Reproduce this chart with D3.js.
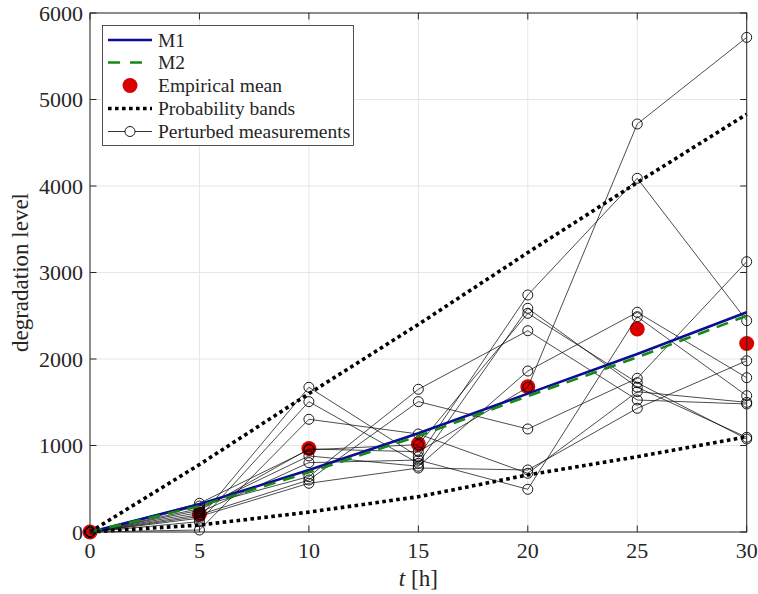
<!DOCTYPE html>
<html><head><meta charset="utf-8">
<script src="https://cdn.jsdelivr.net/npm/d3@7"></script>
<style>
body{margin:0;background:#fff;}
text{font-family:"Liberation Serif","Times New Roman",serif;fill:#262626;}
</style></head>
<body><svg id="c" width="758" height="594"></svg>
<script>
const times = [0, 5, 10, 15, 20, 25, 30];
const xTicks = [0, 5, 10, 15, 20, 25, 30];
const yTicks = [0, 1000, 2000, 3000, 4000, 5000, 6000];

const m1 = [0, 320, 716, 1142, 1600, 2057, 2540];
const m2 = [0, 300, 690, 1110, 1570, 2020, 2500];
const empiricalMean = [0, 208, 965, 1017, 1680, 2347, 2180];
const upperBand = [0, 780, 1600, 2400, 3230, 4040, 4830];
const lowerBand = [0, 80, 230, 408, 660, 870, 1100];

const pert1 = [0, 160, 1673, 871, 2740, 4089, 2443];
const pert2 = [0, 120, 1507, 794, 2586, 1673, 1095];
const pert3 = [0, 23, 1303, 1133, 679, 1622, 1499];
const pert4 = [0, 250, 960, 928, 1673, 4717, 5718];
const pert5 = [0, 332, 950, 1010, 2528, 1726, 1075];
const pert6 = [0, 270, 879, 760, 1861, 2540, 1784];
const pert7 = [0, 225, 802, 832, 494, 2489, 1576];
const pert8 = [0, 300, 640, 1650, 2327, 1526, 1480];
const pert9 = [0, 200, 601, 1507, 1191, 1777, 3125];
const pert10 = [0, 180, 563, 740, 717, 1430, 1980];
const perturbed = [pert1, pert2, pert3, pert4, pert5, pert6, pert7, pert8, pert9, pert10];

const legendLabels = ["M1", "M2", "Empirical mean", "Probability bands", "Perturbed measurements"];

const L = 90, R = 746.7, T = 13, B = 532;
const svg = d3.select("#c");
const x = d3.scaleLinear().domain([0, 30]).range([L, R]);
const y = d3.scaleLinear().domain([0, 6000]).range([B, T]);
const axCol = "#262626";

// grid
const g = svg.append("g");
g.selectAll(".gx").data(xTicks).enter().append("line")
  .attr("x1", d => x(d)).attr("x2", d => x(d)).attr("y1", T).attr("y2", B)
  .attr("stroke", "#e6e6e6").attr("stroke-width", 1);
g.selectAll(".gy").data(yTicks).enter().append("line")
  .attr("y1", d => y(d)).attr("y2", d => y(d)).attr("x1", L).attr("x2", R)
  .attr("stroke", "#e6e6e6").attr("stroke-width", 1);

const plot = svg.append("g");
const line = d3.line().x((d, i) => x(times[i])).y(d => y(d));

// empirical mean
plot.selectAll(".em").data(empiricalMean).enter().append("circle")
  .attr("cx", (d, i) => x(times[i])).attr("cy", d => y(d)).attr("r", 7.5)
  .attr("fill", "#d90000");

// perturbed
perturbed.forEach(s => {
  plot.append("path").attr("d", line(s)).attr("fill", "none")
    .attr("stroke", "#000").attr("stroke-width", 0.7);
  plot.selectAll(null).data(s).enter().append("circle")
    .attr("cx", (d, i) => x(times[i])).attr("cy", d => y(d)).attr("r", 5)
    .attr("fill", "none").attr("stroke", "#000").attr("stroke-width", 0.9);
});

// models
plot.append("path").attr("d", line(m1)).attr("fill", "none")
  .attr("stroke", "#0c0c94").attr("stroke-width", 2.6);
plot.append("path").attr("d", line(m2)).attr("fill", "none")
  .attr("stroke", "#138a13").attr("stroke-width", 2.6).attr("stroke-dasharray", "12,8");

// bands
[upperBand, lowerBand].forEach(b => {
  plot.append("path").attr("d", line(b)).attr("fill", "none")
    .attr("stroke", "#000").attr("stroke-width", 3.6).attr("stroke-dasharray", "3.6,3.4");
});

// axes box
const ax = svg.append("g");
ax.append("rect").attr("x", L).attr("y", T).attr("width", R - L).attr("height", B - T)
  .attr("fill", "none").attr("stroke", axCol).attr("stroke-width", 1);
const tl = 6.5;
xTicks.forEach(t => {
  ax.append("line").attr("x1", x(t)).attr("x2", x(t)).attr("y1", B).attr("y2", B - tl).attr("stroke", axCol);
  ax.append("line").attr("x1", x(t)).attr("x2", x(t)).attr("y1", T).attr("y2", T + tl).attr("stroke", axCol);
  ax.append("text").attr("x", x(t)).attr("y", B + 26).attr("text-anchor", "middle")
    .attr("font-size", 22).text(t);
});
yTicks.forEach(t => {
  ax.append("line").attr("x1", L).attr("x2", L + tl).attr("y1", y(t)).attr("y2", y(t)).attr("stroke", axCol);
  ax.append("line").attr("x1", R).attr("x2", R - tl).attr("y1", y(t)).attr("y2", y(t)).attr("stroke", axCol);
  ax.append("text").attr("x", L - 7).attr("y", y(t) + 7.5).attr("text-anchor", "end")
    .attr("font-size", 22).text(t);
});

// axis labels
const xl = ax.append("text").attr("x", (L + R) / 2).attr("y", 586).attr("text-anchor", "middle").attr("font-size", 23);
xl.append("tspan").attr("font-style", "italic").text("t");
xl.append("tspan").text(" [h]");
ax.append("text").attr("transform", `translate(28,${(T + B) / 2}) rotate(-90)`)
  .attr("text-anchor", "middle").attr("font-size", 23).text("degradation level");

// legend
const lg = svg.append("g");
lg.append("rect").attr("x", 102.5).attr("y", 25.5).attr("width", 251).attr("height", 120)
  .attr("fill", "#fff").attr("stroke", axCol).attr("stroke-width", 0.8);
const ly = [40, 62.5, 85.5, 108.5, 131.5];
const lx1 = 108, lx2 = 152, tx = 158;
lg.append("line").attr("x1", lx1).attr("x2", lx2).attr("y1", ly[0]).attr("y2", ly[0])
  .attr("stroke", "#0c0c94").attr("stroke-width", 2.6);
lg.append("line").attr("x1", lx1).attr("x2", lx2).attr("y1", ly[1]).attr("y2", ly[1])
  .attr("stroke", "#138a13").attr("stroke-width", 2.6).attr("stroke-dasharray", "12,10");
lg.append("circle").attr("cx", (lx1 + lx2) / 2).attr("cy", ly[2]).attr("r", 7.5).attr("fill", "#d90000");
lg.append("line").attr("x1", lx1).attr("x2", lx2).attr("y1", ly[3]).attr("y2", ly[3])
  .attr("stroke", "#000").attr("stroke-width", 3.6).attr("stroke-dasharray", "3.6,3.4");
lg.append("line").attr("x1", lx1).attr("x2", lx2).attr("y1", ly[4]).attr("y2", ly[4])
  .attr("stroke", "#000").attr("stroke-width", 0.8);
lg.append("circle").attr("cx", (lx1 + lx2) / 2).attr("cy", ly[4]).attr("r", 5)
  .attr("fill", "#fff").attr("stroke", "#000").attr("stroke-width", 0.9);
legendLabels.forEach((s, i) => {
  lg.append("text").attr("x", tx).attr("y", ly[i] + 6.5).attr("font-size", 19.5).attr("fill", "#000").text(s);
});
</script></body></html>
